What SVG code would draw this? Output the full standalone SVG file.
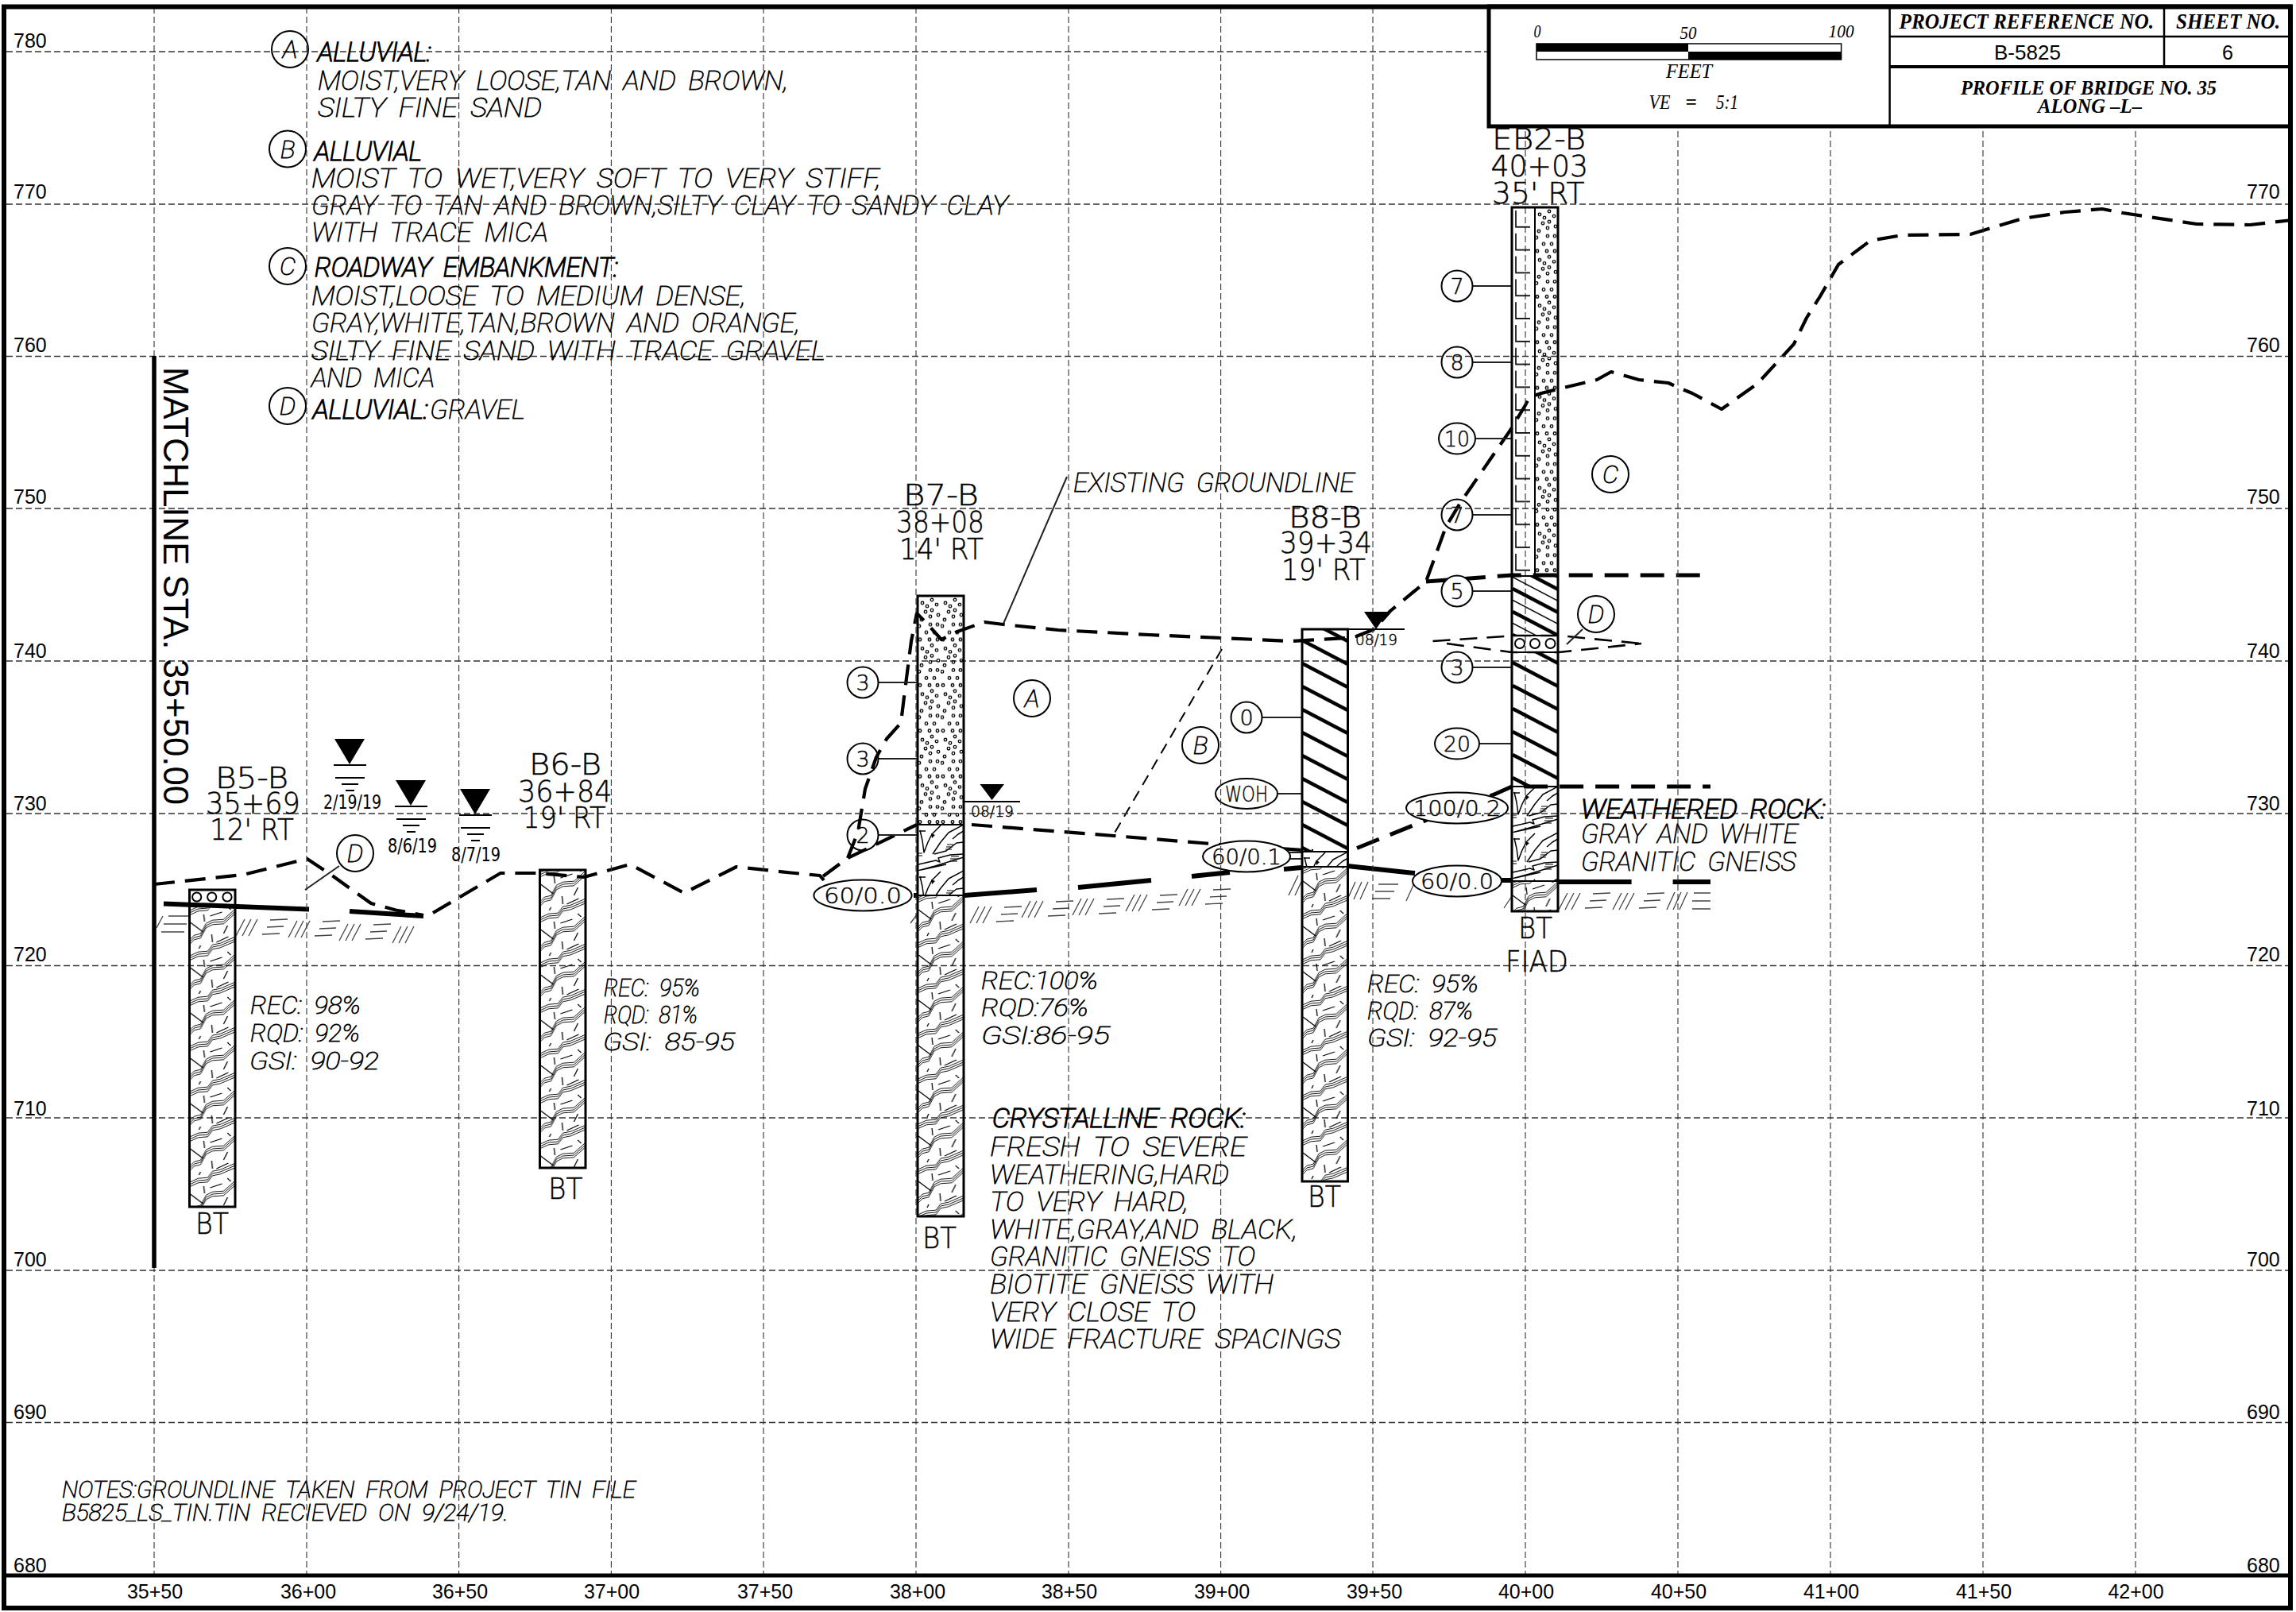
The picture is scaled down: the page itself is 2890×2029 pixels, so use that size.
<svg xmlns="http://www.w3.org/2000/svg" width="2890" height="2029" viewBox="0 0 2890 2029">
<style>
text{fill:#000}
.c{font-family:"DejaVu Sans",sans-serif;font-weight:200;stroke:#000;stroke-width:.45}
.d{font-family:"DejaVu Sans",sans-serif;font-size:24px}
.i{font-family:Roboto,"DejaVu Sans",sans-serif;font-style:italic;font-weight:100;stroke-width:.8;word-spacing:7px}
.b{stroke:#000;stroke-width:1.7}
.l{font-size:34px}
.h{font-size:38px}
.r{font-size:31px}
.m{text-anchor:middle}
.n{font-size:27px}
.e{font-family:"Liberation Sans",sans-serif;font-size:25px}
.s{font-family:"Liberation Serif",serif;font-style:italic}
.sb{font-family:"Liberation Serif",serif;font-style:italic;font-weight:700}
.grid{fill:none;stroke:#333;stroke-width:1.3;stroke-dasharray:8 4}
.gridv{fill:none;stroke:#333;stroke-width:1.1;stroke-dasharray:8 4}
.gl{fill:none;stroke:#000;stroke-width:4.2;stroke-dasharray:26 13;stroke-linejoin:round}
.gl2{fill:none;stroke:#000;stroke-width:2.6;stroke-dasharray:22 12}
.em{fill:none;stroke:#000;stroke-width:5;stroke-dasharray:30 15}
.rk{fill:none;stroke:#000;stroke-width:6}
.th{fill:none;stroke:#000;stroke-width:2}
.ld{fill:none;stroke:#222;stroke-width:2}
.bal{fill:none;stroke:#000;stroke-width:2}
.balw{fill:#fff;stroke:#000;stroke-width:2}
.box{fill:none;stroke:#000;stroke-width:3}
.sl{fill:none;stroke:#444;stroke-width:1.3}
.tb{fill:none;stroke:#000;stroke-width:2.5}
</style>
<defs>
<pattern id="rock" width="57.5" height="57" patternUnits="userSpaceOnUse">
<g fill="none" stroke="#000" stroke-width=".9" stroke-linejoin="round">
<path id="wa" d="M0,43L6,37L14,35L21,22L29,18L43,17L57.5,4"/>
<use href="#wa" y="-2.8"/><use href="#wa" y="2.8"/>
<path id="wb" d="M0,63L11,58L23,57L29,49L39,47L57.5,39"/>
<use href="#wb" y="-2.8"/><use href="#wb" y="2.8"/>
<use href="#wb" y="-57"/><use href="#wb" y="-59.8"/><use href="#wb" y="-54.2"/>
<path stroke-width="1.3" d="M26,10L41,5M48,-2L52,2M18,8L19,17M1,18L17,30M48,22L43,32M28,33L29,43M34,43L49,36M14,47L12,51M48,55L52,60"/>
</g></pattern>
<pattern id="wx" width="58" height="58" patternUnits="userSpaceOnUse">
<g fill="none" stroke="#000" stroke-width="1.5" stroke-linejoin="round">
<path d="M3,7L6,20L8,35L13,22L18,12L29,1M19,37L29,22L39,10L58,0M21,37L36,33L49,23L58,22M44,18L51,12L58,8M1,50L23,45L28,47L26,42L41,38L58,37M4,57L36,50M2,8L10,8M0,58L22,52L58,41"/>
<path stroke-width="1.1" d="M37,25H45M36,28H44M35,31H43M42,40H52M41,43H51M40,46H50M0,36H6M0,39H6"/>
<path stroke="none" fill="#000" d="M17,11L22,13L18,17Z"/>
</g></pattern>
<pattern id="sand" width="29" height="57.4" patternUnits="userSpaceOnUse">
<g fill="none" stroke="#000" stroke-width="1.3">
<circle cx="6" cy="9" r="1.8"/><circle cx="12" cy="13" r="1.8"/><circle cx="18" cy="5" r="1.8"/><circle cx="24" cy="11" r="1.8"/><circle cx="10" cy="20" r="1.8"/><circle cx="18" cy="18" r="1.8"/><circle cx="26" cy="24" r="1.8"/><circle cx="5" cy="30" r="1.8"/><circle cx="16" cy="26" r="1.8"/><circle cx="2" cy="38" r="1.8"/><circle cx="16" cy="36" r="1.8"/><circle cx="25" cy="36" r="1.8"/><circle cx="11" cy="46" r="1.8"/><circle cx="21" cy="46" r="1.8"/><circle cx="3" cy="55" r="1.8"/><circle cx="15" cy="55" r="1.8"/><circle cx="25" cy="55" r="1.8"/>
</g></pattern>
<pattern id="ell" width="29" height="28.8" patternUnits="userSpaceOnUse"><path d="M5,4V24.7H23" fill="none" stroke="#000" stroke-width="1.6"/></pattern>
<pattern id="hat" width="57.5" height="29" patternUnits="userSpaceOnUse"><path d="M0,0L57.5,30M0,-29L57.5,1M0,29L57.5,59" fill="none" stroke="#000" stroke-width="4.6"/></pattern>
<pattern id="hatt" width="57.5" height="29" patternUnits="userSpaceOnUse"><path d="M0,14.5L57.5,44.5M0,-14.5L57.5,15.5" fill="none" stroke="#000" stroke-width="1.5"/></pattern>
<path id="sw" class="sl" d="M0,22L11,1M8,22L19,1M16,22L27,1M43,2L65,1M39,11L60,10M33,20L55,19"/>
<g id="wt"><path d="M0,0H38L19,32Z" fill="#000"/><path class="th" d="M-1,33H40M1,49H38M9,57H30M14,65H25"/></g>
</defs>
<rect width="2890" height="2029" fill="#fff"/>

<g id="connectors">
<path class="gl" d="M194,1113L306,1101L386.6,1081L418,1102L467,1137L498,1145.5L533,1152"/>
<path class="gl" d="M545,1149L630,1099L677,1099L735,1104L793,1088L861,1124L927,1091L995,1098.5L1032,1102L1037,1108"/>
<path class="gl" d="M1036,1103L1067,1080L1154,1038"/>
<path class="gl" d="M1067,1080L1080,1047L1089,993L1103,953L1116,930L1134,910L1138,877L1147,807L1154,772L1165,783L1185,805L1205,795L1239,783L1263,786L1312,791L1332,793L1446,799L1537.5,803L1625,807L1696,803L1707,801L1730,792L1750,769L1795,732L1800,718L1820,663L1838,633L1900,543L1920,510L1925,500L1940,495L1960,490L2010,478L2028,468L2063,478L2100,482L2113,488L2130,495L2167,515L2212,483L2258,433L2274,400L2291,373L2314,333L2354,303L2394,296L2480,295L2546,275L2599,267L2646,263L2672,268L2765,282L2832,283L2885,277"/>
<path class="gl" d="M1223,1038L1402,1052L1536,1063L1653,1071"/>
<path class="em" d="M1708,1067.5L1796,1032L1883,999L1903,990H2153"/>
<path class="em" d="M1795,732L1903,724H2148"/>
<path class="gl2" d="M1803.5,807L1908,800H1962L2066,810"/>
<path class="gl2" d="M1821,810L1903,821H1962L2066,810"/>
<path class="th" stroke-dasharray="14 9" d="M1538,817L1402,1050"/>
<path class="rk" d="M206,1137.5L389,1144.6M440,1147L533,1153M1150,1127H1155M1214,1127L1305,1120M1357,1117L1449,1108M1500,1103L1548,1098M1616,1094L1638,1092M1696,1090L1781,1099M1890,1108H1903M1962,1110H2053.6M2105.6,1110H2153"/>
<path class="ld" d="M427,1090L384,1120M1343,600L1263,785M1992,792L1972,811"/>
<path class="ld" d="M1105,859H1155M1105,955H1155M1105,1051H1155M1588,903H1638M1608,999H1638M1620,1073H1638M1620,1081H1638M1853,744H1903M1853,840H1903M1862,936H1903M1853,360H1903M1853,456H1903M1857,552H1903M1853,648H1903"/>
<use href="#sw" x="297" y="1156"/><use href="#sw" x="363" y="1158"/><use href="#sw" x="427" y="1162"/>
<path class="sl" d="M494,1187L505,1166M502,1187L513,1166M510,1187L521,1166M197,1168L205,1153M212,1153H237M206,1163H235M203,1173H232"/>
<use href="#sw" x="1221" y="1140"/><use href="#sw" x="1286" y="1133"/><use href="#sw" x="1350" y="1130"/><use href="#sw" x="1417" y="1125"/><use href="#sw" x="1484" y="1118"/>
<path class="sl" d="M1622,1127L1634,1102M1630,1127L1638,1110M1696,1132L1706,1110M1704,1132L1714,1110M1712,1132L1722,1110M1735,1113H1760M1731,1122H1755M1727,1131H1750M1770,1134L1780,1112M1146,1162L1155,1150M1893,1143L1903,1128"/>
<use href="#sw" x="1962" y="1123"/><use href="#sw" x="2030" y="1123"/>
<path class="sl" d="M2098,1145L2108,1123M2106,1145L2116,1123M2114,1145L2124,1123M2132,1124H2153M2130,1134H2153M2130,1144H2153"/>
</g>

<g id="balloons">
<g id="bal-60-00a"><ellipse class="balw" cx="1086" cy="1127" rx="61.6" ry="19.5"/><text class="c n m" x="1086" y="1137" textLength="98" lengthAdjust="spacingAndGlyphs">60/0.0</text></g>
<g id="bal-60-01"><ellipse class="balw" cx="1569" cy="1078" rx="55" ry="19.5"/><text class="c n m" x="1569" y="1088" textLength="88" lengthAdjust="spacingAndGlyphs">60/0.1</text></g>
<g id="bal-60-00b"><ellipse class="balw" cx="1834" cy="1109" rx="56" ry="19.5"/><text class="c n m" x="1834" y="1119" textLength="92" lengthAdjust="spacingAndGlyphs">60/0.0</text></g>
<g id="bal-100"><ellipse class="balw" cx="1834" cy="1017" rx="64" ry="19.5"/><text class="c n m" x="1834" y="1027" textLength="110" lengthAdjust="spacingAndGlyphs">100/0.2</text></g>
<g id="bal-woh"><ellipse class="bal" cx="1569" cy="999" rx="39" ry="19"/><text class="c n m" x="1569" y="1009" textLength="54" lengthAdjust="spacingAndGlyphs">WOH</text></g>
<g id="bal-3a"><circle class="bal" cx="1086" cy="859" r="19.5"/><text class="c n m" x="1086" y="869">3</text></g>
<g id="bal-3b"><circle class="bal" cx="1086" cy="955" r="19.5"/><text class="c n m" x="1086" y="965">3</text></g>
<g id="bal-2"><circle class="bal" cx="1086" cy="1051" r="19.5"/><text class="c n m" x="1086" y="1061">2</text></g>
<g id="bal-0"><circle class="bal" cx="1569" cy="903" r="19.5"/><text class="c n m" x="1569" y="913">0</text></g>
<g id="bal-5"><circle class="balw" cx="1834" cy="744" r="19.5"/><text class="c n m" x="1834" y="754">5</text></g>
<g id="bal-3c"><circle class="bal" cx="1834" cy="840" r="19.5"/><text class="c n m" x="1834" y="850">3</text></g>
<g id="bal-20"><ellipse class="bal" cx="1834" cy="936" rx="28" ry="19.5"/><text class="c n m" x="1834" y="946" textLength="34" lengthAdjust="spacingAndGlyphs">20</text></g>
<g id="bal-7a"><circle class="bal" cx="1834" cy="360" r="19.5"/><text class="c n m" x="1834" y="370">7</text></g>
<g id="bal-8"><circle class="bal" cx="1834" cy="456" r="19.5"/><text class="c n m" x="1834" y="466">8</text></g>
<g id="bal-10"><ellipse class="bal" cx="1834" cy="552" rx="23" ry="19.5"/><text class="c n m" x="1834" y="562" textLength="32" lengthAdjust="spacingAndGlyphs">10</text></g>
<g id="bal-7b"><circle class="bal" cx="1834" cy="648" r="19.5"/><text class="c n m" x="1834" y="658">7</text></g>
<g id="zone-A"><circle class="bal" cx="1299" cy="879" r="23"/><text class="c i m" font-size="32" x="1299" y="890">A</text></g>
<g id="zone-B"><circle class="bal" cx="1511" cy="938" r="23"/><text class="c i m" font-size="32" x="1511" y="949">B</text></g>
<g id="zone-C"><circle class="bal" cx="2027" cy="597" r="23"/><text class="c i m" font-size="32" x="2027" y="608">C</text></g>
<g id="zone-D1"><circle class="bal" cx="447" cy="1074" r="23"/><text class="c i m" font-size="32" x="447" y="1085">D</text></g>
<g id="zone-D2"><circle class="bal" cx="2009" cy="773" r="23"/><text class="c i m" font-size="32" x="2009" y="784">D</text></g>
</g>

<g id="grid">
<path class="grid" d="M8,65H2883M8,257H2883M8,448.5H2883M8,640H2883M8,832H2883M8,1024H2883M8,1215.5H2883M8,1407H2883M8,1599H2883M8,1790.5H2883"/>
<path class="gridv" d="M194,9V1983M386,9V1983M577.6,9V1983M769.4,9V1983M961,9V1983M1153,9V1983M1345,9V1983M1536.6,9V1983M1728,9V1983M1920,9V1983M2112,9V1983M2304,9V1983M2496,9V1983M2688,9V1983"/>
</g>

<g id="matchline"><path d="M194,448V1596" stroke="#000" stroke-width="5.5"/><text transform="translate(206,462) rotate(90)" font-family="Liberation Sans,sans-serif" font-size="45" textLength="551" lengthAdjust="spacingAndGlyphs">MATCHLINE STA. 35+50.00</text></g>

<g id="B5-B">
<g transform="translate(238.5,1143)"><rect y="-3" width="57.5" height="379" fill="url(#rock)"/></g>
<rect class="box" x="238.5" y="1120" width="57.5" height="399"/><path class="th" d="M238.5,1140H296"/>
<circle class="bal" cx="247.7" cy="1129" r="5.6"/><circle class="bal" cx="266.7" cy="1129" r="5.6"/><circle class="bal" cx="286" cy="1129" r="5.6"/>
<text class="c h" x="271" y="991.5" textLength="92" lengthAdjust="spacingAndGlyphs">B5-B</text>
<text class="c h" x="259" y="1024" textLength="119" lengthAdjust="spacingAndGlyphs">35+69</text>
<text class="c h" x="264" y="1057" textLength="106" lengthAdjust="spacingAndGlyphs">12' RT</text>
<text class="c h" x="246" y="1553" textLength="42" lengthAdjust="spacingAndGlyphs">BT</text>
<text class="c i r" x="315" y="1276" textLength="139" lengthAdjust="spacingAndGlyphs">REC: 98%</text>
<text class="c i r" x="315" y="1311" textLength="138" lengthAdjust="spacingAndGlyphs">RQD: 92%</text>
<text class="c i r" x="314" y="1345.5" textLength="163" lengthAdjust="spacingAndGlyphs">GSI: 90-92</text>
</g>
<g id="B6-B">
<g transform="translate(679.5,1095)"><rect width="57.5" height="375" fill="url(#rock)"/></g>
<rect class="box" x="679.5" y="1095" width="57.5" height="375"/>
<text class="c h" x="666" y="974.5" textLength="91" lengthAdjust="spacingAndGlyphs">B6-B</text>
<text class="c h" x="652" y="1008.5" textLength="118.5" lengthAdjust="spacingAndGlyphs">36+84</text>
<text class="c h" x="658" y="1041.5" textLength="104.5" lengthAdjust="spacingAndGlyphs">19' RT</text>
<text class="c h" x="690" y="1509" textLength="43.5" lengthAdjust="spacingAndGlyphs">BT</text>
<text class="c i r" x="760" y="1254" textLength="121" lengthAdjust="spacingAndGlyphs">REC: 95%</text>
<text class="c i r" x="760" y="1287.5" textLength="118" lengthAdjust="spacingAndGlyphs">RQD: 81%</text>
<text class="c i r" x="759" y="1322" textLength="166" lengthAdjust="spacingAndGlyphs">GSI: 85-95</text>
</g>
<g id="B7-B">
<g transform="translate(1155,750)"><rect width="58" height="288" fill="url(#sand)"/></g>
<g transform="translate(1155,1038)"><rect width="58" height="89" fill="url(#wx)"/></g>
<g transform="translate(1155,1127)"><rect width="58" height="404" fill="url(#rock)"/></g>
<rect class="box" x="1155" y="750" width="58" height="781"/><path class="th" d="M1155,1038H1213M1155,1127H1213"/>
<text class="c h" x="1137" y="636" textLength="95" lengthAdjust="spacingAndGlyphs">B7-B</text>
<text class="c h" x="1128" y="670" textLength="111" lengthAdjust="spacingAndGlyphs">38+08</text>
<text class="c h" x="1132" y="704" textLength="106" lengthAdjust="spacingAndGlyphs">14' RT</text>
<text class="c h" x="1161" y="1571" textLength="43" lengthAdjust="spacingAndGlyphs">BT</text>
<text class="c i r" x="1235" y="1244.5" textLength="147" lengthAdjust="spacingAndGlyphs">REC:100%</text>
<text class="c i r" x="1235" y="1279" textLength="135" lengthAdjust="spacingAndGlyphs">RQD:76%</text>
<text class="c i r" x="1235" y="1314" textLength="162" lengthAdjust="spacingAndGlyphs">GSI:86-95</text>
</g>
<g id="B8-B">
<g transform="translate(1639,806)"><rect y="-14" width="57.5" height="280" fill="url(#hat)"/></g>
<g transform="translate(1639,1072)"><rect width="57.5" height="19" fill="url(#wx)"/></g>
<g transform="translate(1639,1091)"><rect width="57.5" height="396" fill="url(#rock)"/></g>
<rect class="box" x="1639" y="792" width="57.5" height="695"/><path class="th" d="M1639,1072H1696.5M1639,1091H1696.5"/>
<text class="c h" x="1622" y="664" textLength="92" lengthAdjust="spacingAndGlyphs">B8-B</text>
<text class="c h" x="1611" y="696" textLength="116" lengthAdjust="spacingAndGlyphs">39+34</text>
<text class="c h" x="1613" y="730" textLength="106" lengthAdjust="spacingAndGlyphs">19' RT</text>
<text class="c h" x="1646" y="1519" textLength="42" lengthAdjust="spacingAndGlyphs">BT</text>
<text class="c i r" x="1721" y="1249" textLength="140" lengthAdjust="spacingAndGlyphs">REC: 95%</text>
<text class="c i r" x="1721" y="1283" textLength="133" lengthAdjust="spacingAndGlyphs">RQD: 87%</text>
<text class="c i r" x="1721" y="1317" textLength="163" lengthAdjust="spacingAndGlyphs">GSI: 92-95</text>
</g>
<g id="EB2-B">
<g transform="translate(1903,261)"><rect width="29" height="464" fill="url(#ell)"/></g>
<g transform="translate(1932,261)"><rect width="29" height="464" fill="url(#sand)"/></g>
<g transform="translate(1904,741)"><rect y="-16" width="57" height="75" fill="url(#hat)"/><rect y="-16" width="57" height="75" fill="url(#hatt)"/></g>
<g transform="translate(1904,834)"><rect y="-13" width="57" height="169" fill="url(#hat)"/></g>
<g transform="translate(1903,990)"><rect width="58" height="119" fill="url(#wx)"/></g>
<g transform="translate(1903,1109)"><rect width="58" height="38" fill="url(#rock)"/></g>
<rect class="box" x="1903" y="261" width="58" height="886"/>
<path class="th" d="M1932,261V725M1903,725H1961M1903,800H1961M1903,821H1961M1903,990H1961M1903,1109H1961"/>
<circle class="bal" cx="1913" cy="810" r="6"/><circle class="bal" cx="1932" cy="810" r="6"/><circle class="bal" cx="1951.5" cy="810" r="6"/>
<text class="c h" x="1878" y="188" textLength="118" lengthAdjust="spacingAndGlyphs">EB2-B</text>
<text class="c h" x="1876.5" y="222" textLength="122.5" lengthAdjust="spacingAndGlyphs">40+03</text>
<text class="c h" x="1878" y="255.5" textLength="116.6" lengthAdjust="spacingAndGlyphs">35' RT</text>
<text class="c h" x="1911" y="1180.5" textLength="43" lengthAdjust="spacingAndGlyphs">BT</text>
<text class="c h" x="1895" y="1223" textLength="79" lengthAdjust="spacingAndGlyphs">FIAD</text>
</g>

<g id="water">
<g id="wt1"><use href="#wt" x="421" y="930"/><text class="d" x="407" y="1018" textLength="73" lengthAdjust="spacingAndGlyphs">2/19/19</text></g>
<g id="wt2"><use href="#wt" x="498" y="982"/><text class="d" x="488" y="1073" textLength="62" lengthAdjust="spacingAndGlyphs">8/6/19</text></g>
<g id="wt3"><use href="#wt" x="579" y="993"/><text class="d" x="568" y="1084" textLength="62" lengthAdjust="spacingAndGlyphs">8/7/19</text></g>
<g id="wt4"><path d="M1233.5,987H1264L1248.6,1007Z"/><path class="th" d="M1213,1009H1284"/><text class="c" font-size="19" x="1222" y="1028" textLength="54" lengthAdjust="spacingAndGlyphs">08/19</text></g>
<g id="wt5"><path d="M1717,770H1747L1732,792Z"/><path class="th" d="M1696,792H1768"/><text class="c" font-size="19" x="1706" y="812" textLength="53" lengthAdjust="spacingAndGlyphs">08/19</text></g>
</g>

<g id="legend">
<circle class="bal" cx="365" cy="62" r="23"/><text class="c i m" font-size="32" x="365" y="73">A</text>
<circle class="bal" cx="362" cy="187.5" r="23"/><text class="c i m" font-size="32" x="362" y="198.5">B</text>
<circle class="bal" cx="362" cy="335" r="23"/><text class="c i m" font-size="32" x="362" y="346">C</text>
<circle class="bal" cx="362" cy="511" r="23"/><text class="c i m" font-size="32" x="362" y="522">D</text>
<text class="c i l b" x="400" y="76.5" textLength="143" lengthAdjust="spacingAndGlyphs">ALLUVIAL:</text>
<text class="c i l" x="400" y="113" textLength="592" lengthAdjust="spacingAndGlyphs">MOIST,VERY LOOSE,TAN AND BROWN,</text>
<text class="c i l" x="400" y="147" textLength="282" lengthAdjust="spacingAndGlyphs">SILTY FINE SAND</text>
<text class="c i l b" x="396" y="202" textLength="135" lengthAdjust="spacingAndGlyphs">ALLUVIAL</text>
<text class="c i l" x="392" y="236" textLength="717" lengthAdjust="spacingAndGlyphs">MOIST TO WET,VERY SOFT TO VERY STIFF,</text>
<text class="c i l" x="392" y="270" textLength="877" lengthAdjust="spacingAndGlyphs">GRAY TO TAN AND BROWN,SILTY CLAY TO SANDY CLAY</text>
<text class="c i l" x="392" y="304" textLength="298" lengthAdjust="spacingAndGlyphs">WITH TRACE MICA</text>
<text class="c i l b" x="396" y="347.5" textLength="382" lengthAdjust="spacingAndGlyphs">ROADWAY EMBANKMENT:</text>
<text class="c i l" x="392" y="384" textLength="547" lengthAdjust="spacingAndGlyphs">MOIST,LOOSE TO MEDIUM DENSE,</text>
<text class="c i l" x="392" y="418" textLength="615" lengthAdjust="spacingAndGlyphs">GRAY,WHITE,TAN,BROWN AND ORANGE,</text>
<text class="c i l" x="392" y="453" textLength="647" lengthAdjust="spacingAndGlyphs">SILTY FINE SAND WITH TRACE GRAVEL</text>
<text class="c i l" x="392" y="487" textLength="155" lengthAdjust="spacingAndGlyphs">AND MICA</text>
<text class="c i l b" x="394" y="527" textLength="145" lengthAdjust="spacingAndGlyphs">ALLUVIAL:</text>
<text class="c i l" x="541" y="527" textLength="120" lengthAdjust="spacingAndGlyphs">GRAVEL</text>
</g>

<g id="notes">
<text class="c i l" x="1351" y="619" textLength="354" lengthAdjust="spacingAndGlyphs">EXISTING GROUNDLINE</text>
<text class="c i l b" x="1249" y="1419" textLength="319" lengthAdjust="spacingAndGlyphs">CRYSTALLINE ROCK:</text>
<text class="c i l" x="1246" y="1455" textLength="323" lengthAdjust="spacingAndGlyphs">FRESH TO SEVERE</text>
<text class="c i l" x="1246" y="1490" textLength="301" lengthAdjust="spacingAndGlyphs">WEATHERING,HARD</text>
<text class="c i l" x="1246" y="1524" textLength="250" lengthAdjust="spacingAndGlyphs">TO VERY HARD,</text>
<text class="c i l" x="1246" y="1559" textLength="387" lengthAdjust="spacingAndGlyphs">WHITE,GRAY,AND BLACK,</text>
<text class="c i l" x="1246" y="1593" textLength="334" lengthAdjust="spacingAndGlyphs">GRANITIC GNEISS TO</text>
<text class="c i l" x="1246" y="1628" textLength="357" lengthAdjust="spacingAndGlyphs">BIOTITE GNEISS WITH</text>
<text class="c i l" x="1246" y="1663" textLength="259" lengthAdjust="spacingAndGlyphs">VERY CLOSE TO</text>
<text class="c i l" x="1246" y="1697" textLength="441.5" lengthAdjust="spacingAndGlyphs">WIDE FRACTURE SPACINGS</text>
<text class="c i l b" x="1990" y="1030" textLength="308" lengthAdjust="spacingAndGlyphs">WEATHERED ROCK:</text>
<text class="c i l" x="1990" y="1061" textLength="273" lengthAdjust="spacingAndGlyphs">GRAY AND WHITE</text>
<text class="c i l" x="1990" y="1095.6" textLength="271" lengthAdjust="spacingAndGlyphs">GRANITIC GNEISS</text>
<text class="c i" font-size="30" x="78" y="1885" textLength="722" lengthAdjust="spacingAndGlyphs">NOTES:GROUNDLINE TAKEN FROM PROJECT TIN FILE</text>
<text class="c i" font-size="30" x="78" y="1914" textLength="562" lengthAdjust="spacingAndGlyphs">B5825_LS_TIN.TIN RECIEVED ON 9/24/19.</text>
</g>

<g id="axes">
<text class="e" x="17" y="60">780</text><text class="e" x="17" y="250">770</text><text class="e" x="17" y="443">760</text><text class="e" x="17" y="634">750</text><text class="e" x="17" y="828">740</text><text class="e" x="17" y="1020">730</text><text class="e" x="17" y="1210">720</text><text class="e" x="17" y="1404">710</text><text class="e" x="17" y="1594">700</text><text class="e" x="17" y="1786">690</text><text class="e" x="17" y="1979">680</text>
<text class="e" x="2828" y="250">770</text><text class="e" x="2828" y="443">760</text><text class="e" x="2828" y="634">750</text><text class="e" x="2828" y="828">740</text><text class="e" x="2828" y="1020">730</text><text class="e" x="2828" y="1210">720</text><text class="e" x="2828" y="1404">710</text><text class="e" x="2828" y="1594">700</text><text class="e" x="2828" y="1786">690</text><text class="e" x="2828" y="1979">680</text>
<g class="e" text-anchor="middle">
<text x="195" y="2012">35+50</text><text x="388" y="2012">36+00</text><text x="579" y="2012">36+50</text><text x="770" y="2012">37+00</text><text x="963" y="2012">37+50</text><text x="1155" y="2012">38+00</text><text x="1346" y="2012">38+50</text><text x="1538" y="2012">39+00</text><text x="1730" y="2012">39+50</text><text x="1921" y="2012">40+00</text><text x="2113" y="2012">40+50</text><text x="2305" y="2012">41+00</text><text x="2497" y="2012">41+50</text><text x="2688.5" y="2012">42+00</text>
</g>
</g>

<g id="title-block">
<rect x="1874" y="8" width="1009" height="151" fill="#fff" stroke="#000" stroke-width="5"/>
<path class="tb" d="M2378.6,8V159M2724,8V84M2378.6,46H2883"/><path d="M2378.6,84H2883" stroke="#000" stroke-width="4"/>
<text class="s m" font-size="23" x="1935" y="47" textLength="9" lengthAdjust="spacingAndGlyphs">0</text><text class="s m" font-size="23" x="2125" y="49" textLength="21" lengthAdjust="spacingAndGlyphs">50</text><text class="s m" font-size="23" x="2317.6" y="47" textLength="32" lengthAdjust="spacingAndGlyphs">100</text>
<rect x="1934" y="55" width="383.6" height="20" fill="none" stroke="#000" stroke-width="1.5"/>
<path d="M1934,55H2125V65H1934ZM2125,65H2317.6V75H2125Z"/>
<text class="s m" font-size="25" x="2126" y="98" textLength="58" lengthAdjust="spacingAndGlyphs">FEET</text>
<text class="s m" font-size="25" x="2089" y="137" textLength="27" lengthAdjust="spacingAndGlyphs">VE</text><text class="sb m" font-size="25" x="2128.6" y="137">=</text><text class="s m" font-size="25" x="2174" y="137" textLength="28" lengthAdjust="spacingAndGlyphs">5:1</text>
<text class="sb" font-size="27" x="2390.5" y="36" textLength="320.5" lengthAdjust="spacingAndGlyphs">PROJECT REFERENCE NO.</text>
<text class="sb" font-size="27" x="2739" y="36" textLength="131" lengthAdjust="spacingAndGlyphs">SHEET NO.</text>
<text class="e m" x="2552" y="74.7" textLength="84" lengthAdjust="spacingAndGlyphs">B-5825</text><text class="e m" x="2804" y="74.7">6</text>
<text class="sb" font-size="25" x="2468" y="119" textLength="322" lengthAdjust="spacingAndGlyphs">PROFILE OF BRIDGE NO. 35</text>
<text class="sb" font-size="25" x="2565" y="142" textLength="131" lengthAdjust="spacingAndGlyphs">ALONG –L–</text>
</g>
<g id="frame"><rect x="5" y="8.5" width="2878" height="2015.5" fill="none" stroke="#000" stroke-width="6"/><path d="M5,1983H2883" stroke="#000" stroke-width="5"/></g>
</svg>
